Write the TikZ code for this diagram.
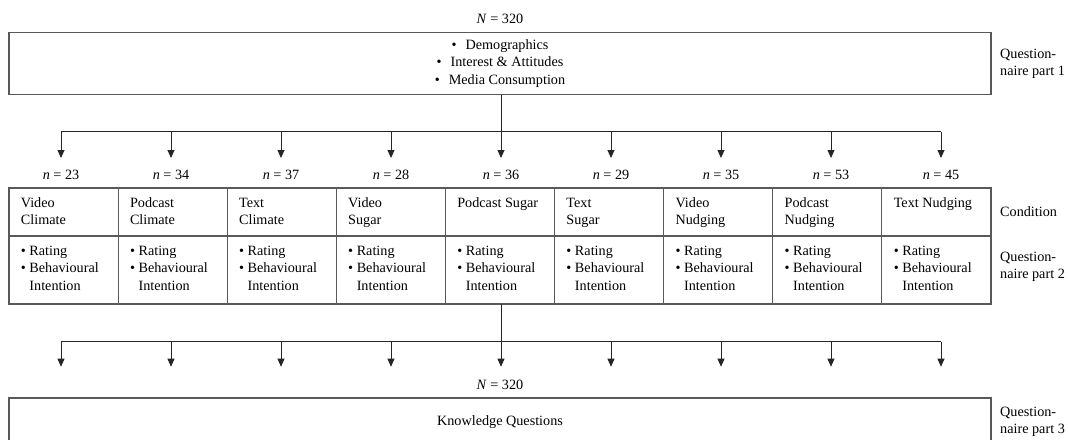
\documentclass[tikz,border=0pt]{standalone}
\usepackage{fontspec}
\setmainfont{Liberation Serif}
\usetikzlibrary{arrows.meta,calc}
\begin{document}
\begin{tikzpicture}[x=1pt,y=-1pt,
  font=\fontsize{14.2}{17.5}\selectfont,
  boxline/.style={draw=black!65, line width=1.1pt},
  cellbox/.style={boxline, anchor=north west, minimum width=109.11pt, minimum height=48pt, inner sep=0pt, outer sep=0pt},
  celltext/.style={anchor=north west, inner sep=0pt, align=left},
  conn/.style={draw=black!85, line width=0.9pt},
  arr/.style={conn, -{Triangle[length=8pt,width=7pt]}},
  lbl/.style={anchor=west, align=left, inner sep=0pt},
  plain/.style={inner sep=0pt}]
\clip (0,0) rectangle (1068,439);
\fill[white] (0,0) rectangle (1068,439);

% top section
\node[plain] (N1) at (500,19) {\textit{N} = 320};
\node[boxline, minimum width=982pt, minimum height=62pt, inner sep=0pt, align=center] (box1) at (500,63.5)
  {•\hspace{9pt}Demographics\\•\hspace{9pt}Interest \& Attitudes\\•\hspace{9pt}Media Consumption};
\node[lbl] (lab1) at (1000,64) {Question-\\naire part 1};

\foreach \k in {0,...,8} {
  \coordinate (e\k) at ({501+110*(\k-4)},158);
  \coordinate (f\k) at ({501+110*(\k-4)},366.7);
}
\coordinate (s1) at (501,131.7);
\coordinate (s2) at (501,341.7);

\draw[arr] (e4 |- box1.south) -- (e4);
\draw[conn] (e0 |- s1) -- (e8 |- s1);
\foreach \k in {0,1,2,3,5,6,7,8} {
  \draw[arr] (e\k |- s1) -- (e\k);
}

\foreach \k/\n in {0/23,1/34,2/37,3/28,4/36,5/29,6/35,7/53,8/45} {
  \node[plain] (n\k) at ({501+110*(\k-4)},175) {\textit{n} = \n};
}

% table
\foreach \i/\txt in {0/{Video\\Climate},1/{Podcast\\Climate},2/{Text\\Climate},3/{Video\\Sugar},4/{Podcast Sugar},5/{Text\\Sugar},6/{Video\\Nudging},7/{Podcast\\Nudging},8/{Text Nudging}} {
  \node[cellbox] (c\i) at ({9+109.111*\i},188) {};
  \node[celltext] (ct\i) at ([xshift=11.7pt,yshift=-6.75pt]c\i.north west) {\strut\txt};
  \node[cellbox, minimum height=68pt] (q\i) at ({9+109.111*\i},236) {};
  \node[celltext] (qt\i) at ([xshift=11.7pt,yshift=-6.75pt]q\i.north west) {\strut•~Rating\\•~Behavioural\\\hphantom{•~}Intention};
}
\node[lbl] (lab2) at (1000,212) {Condition};
\node[lbl] (lab3) at (1000,267) {Question-\\naire part 2};

% lower section
\draw[arr] (f4 |- q4.south) -- (f4);
\draw[conn] (f0 |- s2) -- (f8 |- s2);
\foreach \k in {0,1,2,3,5,6,7,8} {
  \draw[arr] (f\k |- s2) -- (f\k);
}
\node[plain] (N2) at (500,385) {\textit{N} = 320};
\node[boxline, minimum width=982pt, minimum height=48pt, inner sep=0pt] (kq) at (500,422) {Knowledge Questions};
\node[lbl] (lab4) at (1000,422) {Question-\\naire part 3};
\end{tikzpicture}
\end{document}
